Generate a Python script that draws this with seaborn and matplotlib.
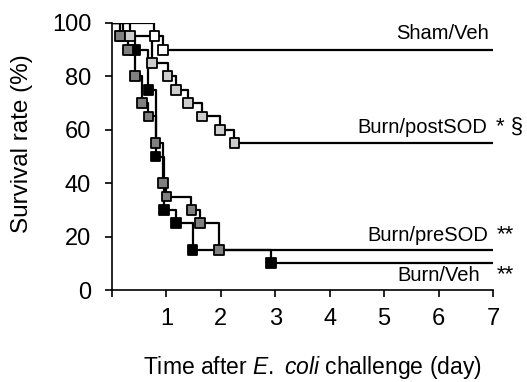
import pandas as pd
import numpy as np
import matplotlib
matplotlib.use("Agg")
import matplotlib.pyplot as plt
import seaborn as sns

# Datos de supervivencia (eventos: día, % sobreviviente)
groups = ["Burn/Veh", "Burn/preSOD", "Burn/postSOD", "Sham/Veh"]
sham_t = [0.78, 0.94]
sham_s = [95, 90]
post_t = [0.33, 0.74, 1.02, 1.17, 1.40, 1.65, 1.98, 2.25]
post_s = [95, 85, 80, 75, 70, 65, 60, 55]
pre_t = [0.15, 0.29, 0.43, 0.55, 0.67, 0.80, 0.93, 1.00, 1.46, 1.61, 1.96]
pre_s = [95, 90, 80, 70, 65, 55, 40, 35, 30, 25, 15]
veh_t = [0.20, 0.43, 0.67, 0.80, 0.96, 1.17, 1.48, 2.92]
veh_s = [95, 90, 75, 50, 30, 25, 15, 10]
end_day = 7

fill = {"Sham/Veh": "white", "Burn/postSOD": "#cdcdcd",
        "Burn/preSOD": "#808080", "Burn/Veh": "black"}
series = {"Sham/Veh": (sham_t, sham_s), "Burn/postSOD": (post_t, post_s),
          "Burn/preSOD": (pre_t, pre_s), "Burn/Veh": (veh_t, veh_s)}

# Tablas para seaborn
steps = []
events = []
for g in groups:
    t, s = series[g]
    steps.append(pd.DataFrame({"day": [0] + t + [end_day],
                               "surv": [100] + s + [s[-1]], "group": g}))
    events.append(pd.DataFrame({"day": t, "surv": s, "group": g}))
steps = pd.concat(steps, ignore_index=True)
events = pd.concat(events, ignore_index=True)

sns.set_style("ticks", {"axes.edgecolor": "black", "text.color": "black",
                        "axes.labelcolor": "black", "xtick.color": "black",
                        "ytick.color": "black"})
plt.rcParams["font.family"] = ["Liberation Sans", "DejaVu Sans"]
plt.rcParams["mathtext.fontset"] = "custom"
plt.rcParams["mathtext.rm"] = "Liberation Sans"
plt.rcParams["mathtext.it"] = "Liberation Sans:italic"

fig, ax = plt.subplots(figsize=(5.27, 3.82), dpi=100)
plt.subplots_adjust(left=0.2125, right=0.9355, bottom=0.2408, top=0.9398)

sns.lineplot(data=steps, x="day", y="surv", hue="group", units="group",
             estimator=None, sort=False, palette=["black"] * 4,
             drawstyle="steps-post", linewidth=1.6, legend=False, ax=ax)
sns.scatterplot(data=events, x="day", y="surv", hue="group", palette=fill,
                marker="s", s=50, edgecolor="black", linewidth=1.3,
                legend=False, ax=ax, zorder=3, clip_on=False)

ax.set_xlim(0, 7)
ax.set_ylim(0, 100)
ax.set_xticks(range(0, 8))
ax.set_xticklabels([""] + [str(i) for i in range(1, 8)])
ax.set_yticks(range(0, 101, 20))
sns.despine(ax=ax)
for sp in ["left", "bottom"]:
    ax.spines[sp].set_linewidth(1.2)
ax.tick_params(axis="both", length=5, width=1.2, labelsize=17, color="black")
ax.tick_params(axis="x", pad=8)
ax.tick_params(axis="y", pad=10)

ax.set_ylabel("Survival rate (%)", fontsize=17.5)
ax.set_xlabel("Time after $\\mathit{E.}$ $\\mathit{coli}$ challenge (day)", fontsize=16.5)
ax.yaxis.set_label_coords(-0.207, 0.547)
ax.xaxis.set_label_coords(0.525, -0.24)

# Etiquetas de grupos
lab = dict(fontsize=14.5, ha="right", va="center", clip_on=False)
ax.text(6.93, 96, "Sham/Veh", **lab)
ax.text(6.90, 61, "Burn/postSOD", **lab)
ax.text(6.92, 20.6, "Burn/preSOD", **lab)
ax.text(6.77, 5.6, "Burn/Veh", **lab)
st = dict(fontsize=16, ha="left", va="center", clip_on=False)
ax.text(7.06, 61, "* §", **st)
ax.text(7.06, 20.6, "**", **st)
ax.text(7.06, 5.6, "**", **st)

plt.savefig("out.png", dpi=100)
